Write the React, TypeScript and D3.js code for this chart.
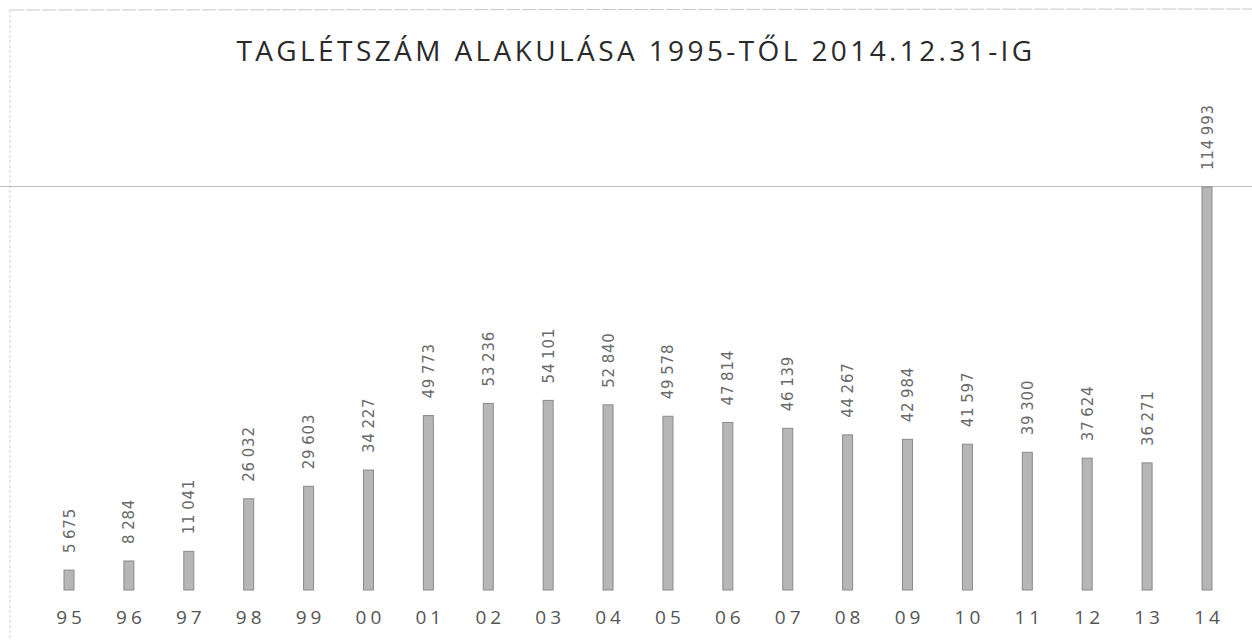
import React from "react";
import * as d3 from "d3";

const categories = ["95","96","97","98","99","00","01","02","03","04","05","06","07","08","09","10","11","12","13","14"];
const values = [5675,8284,11041,26032,29603,34227,49773,53236,54101,52840,49578,47814,46139,44267,42984,41597,39300,37624,36271,114993];
const title = "TAGLÉTSZÁM ALAKULÁSA 1995-TŐL 2014.12.31-IG";

const W = 1252, H = 640;

export default function App() {
  const x = d3.scalePoint<string>().domain(categories).range([69, 1207]);
  const y = d3.scaleLinear().domain([0, d3.max(values) as number]).range([590, 187]);
  const fmt = (v: number) => d3.format(",")(v).replace(/,/g, "\u2009");
  const barW = 10;
  return (
    <svg width={W} height={H} style={{ position: "absolute", left: 0, top: 0, background: "#fff" }}>
      <line x1={10} y1={10} x2={W} y2={9} stroke="#c8c8c8" strokeWidth={1} strokeDasharray="14 2" />
      <line x1={10} y1={10} x2={10} y2={H} stroke="#d0d0d0" strokeWidth={1} strokeDasharray="3 2" />
      <line x1={0} y1={186.5} x2={W} y2={186.5} stroke="#bdbdbd" strokeWidth={1.2} />
      <text x={636} y={61} textAnchor="middle" fontFamily="'Open Sans', sans-serif" fontSize={28} letterSpacing={3.4} fill="#2a2a2a">{title}</text>
      {categories.map((c, i) => {
        const cx = x(c) as number;
        const top = y(values[i]);
        return (
          <g key={c}>
            <rect x={cx - barW / 2} y={top} width={barW} height={590 - top} fill="#b6b6b6" stroke="#8a8a8a" strokeWidth={1} />
            <text transform={`translate(${cx + 5.5},${top - 17}) rotate(-90)`} fontFamily="'DejaVu Sans', sans-serif" fontSize={15} letterSpacing={0.8} fill="#6a6a6a">{fmt(values[i])}</text>
            <text x={cx + 2} y={624} textAnchor="middle" fontFamily="'Open Sans', sans-serif" fontSize={19} letterSpacing={4} fill="#555">{c}</text>
          </g>
        );
      })}
    </svg>
  );
}
